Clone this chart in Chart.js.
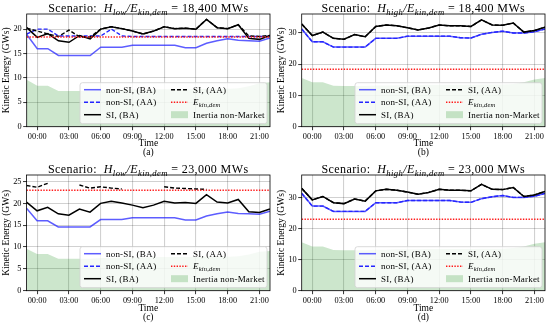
<!DOCTYPE html>
<html><head><meta charset="utf-8">
<script src="https://cdn.jsdelivr.net/npm/chart.js@4.4.1/dist/chart.umd.min.js"></script>
<style>
html,body{margin:0;padding:0;background:#fff;width:550px;height:325px;overflow:hidden}
.p{position:absolute}
canvas{display:block}
</style></head><body>
<div class="p" style="left:0;top:0"><canvas id="ca" width="275" height="160"></canvas></div>
<div class="p" style="left:275px;top:0"><canvas id="cb" width="275" height="160"></canvas></div>
<div class="p" style="left:0;top:160px"><canvas id="cc" width="275" height="165"></canvas></div>
<div class="p" style="left:275px;top:160px"><canvas id="cd" width="275" height="165"></canvas></div>
<script>
// ---------------- data ----------------
const hours = [-1,0,1,2,3,4,5,6,7,8,9,10,11,12,13,14,15,16,17,18,19,20,21,22];
const timeTicks = [0,3,6,9,12,15,18,21];

// low-inertia scenario (panels a, c)
const nonSiBA_low = [18.9,16.0,16.0,14.6,14.6,14.6,14.6,16.3,16.3,16.3,16.7,16.7,16.7,16.7,16.7,16.2,16.2,17.1,17.6,18.0,17.7,17.6,17.5,18.2];
const siBA_low    = [20.3,18.3,19.1,17.6,17.3,18.7,18.0,20.0,20.5,20.1,19.6,19.0,19.6,20.5,20.1,20.2,20.0,22.0,20.3,20.1,20.9,18.1,17.9,18.7];
const nonSiAA_a   = [19.0,20.0,20.0,18.6,18.6,18.6,18.6,18.6,20.0,18.6,18.5,18.5,18.5,18.5,18.5,18.5,18.5,18.5,18.5,18.5,18.5,18.5,18.5,18.5];
const siAA_a      = [20.2,19.6,19.0,18.5,19.8,18.4,18.4,20.0,20.5,20.1,19.6,19.0,19.6,20.5,20.1,20.2,20.0,22.0,20.3,20.1,20.9,18.6,18.5,18.7];
const siAA_c      = [24.1,23.7,24.6,null,null,24.2,23.5,23.8,23.5,23.3,null,null,null,23.8,23.5,23.4,23.3,23.2,null,null,null,null,null,null];
const inertiaNonMarket_low = [9.6,8.4,8.4,7.3,7.3,7.3,7.3,7.5,7.5,7.6,7.6,7.6,7.7,7.7,7.7,7.7,7.7,7.8,7.8,7.8,7.9,8.3,8.9,9.1];

// high-inertia scenario (panels b, d) -- AA curves coincide with BA curves
const nonSiBA_high = [31.3,27.2,27.2,25.5,25.5,25.5,25.5,28.3,28.3,28.3,29.0,29.0,29.0,29.0,29.0,28.5,28.4,29.6,30.2,30.6,30.0,30.0,30.4,31.3];
const siBA_high    = [32.9,29.2,30.3,28.3,28.0,29.5,28.8,32.1,32.6,32.3,31.7,31.0,31.6,32.6,32.3,32.3,32.1,34.2,32.6,32.5,33.2,30.3,30.8,31.9];
const inertiaNonMarket_high = [15.6,14.2,14.2,13.1,13.0,13.0,13.0,13.2,13.2,13.3,13.3,13.3,13.4,13.4,13.4,13.4,13.4,13.5,13.5,13.5,13.7,14.2,15.1,15.6];

const demand18 = 18.4;
const demand23 = 23.0;
const yTicks_a = [0,5,10,15,20];
const yTicks_c = [0,5,10,15,20,25];
const yTicks_hi = [0,10,20,30];

// ---------------- styling ----------------
const FONT = '"Liberation Serif", "DejaVu Serif", serif';
Chart.defaults.font.family = FONT;
Chart.defaults.color = '#000';
const C_BLUE_S = 'rgba(30,30,255,0.72)';
const C_BLUE_D = '#2525ff';
const C_RED = '#ff1a1a';
const C_FILL = 'rgba(0,128,0,0.2)';
const GRID = 'rgba(0,0,0,0.18)';

function pts(arr){ return hours.map((h,i)=>({x:h, y:arr[i]})); }
function lineDS(label, arr, color, width, dash){
  return {label, data: pts(arr), borderColor: color, borderWidth: width, borderDash: dash||[],
          pointRadius: 0, fill: false, tension: 0, spanGaps: false};
}

function sub(t){ return {t, it:true, sub:true}; }
function it(t){ return {t, it:true}; }
function rm(t){ return {t}; }

function drawRich(ctx, parts, x, y, size, align, spacing){
  const ss = size*0.72;
  ctx.letterSpacing = (spacing||0)+'px';
  const ws = parts.map(p=>{ ctx.font=(p.it?'italic ':'')+(p.sub?ss:size)+'px '+FONT; return ctx.measureText(p.t).width; });
  const total = ws.reduce((a,b)=>a+b,0);
  let cx = align==='center' ? x-total/2 : x;
  parts.forEach((p,i)=>{
    ctx.font=(p.it?'italic ':'')+(p.sub?ss:size)+'px '+FONT;
    ctx.fillText(p.t, cx, y + (p.sub ? size*0.25 : 0));
    cx += ws[i];
  });
  ctx.letterSpacing = '0px';
}

const richTitle = {
  id:'richTitle',
  afterDraw(chart, args, o){
    const ctx=chart.ctx, a=chart.chartArea;
    ctx.save(); ctx.fillStyle='#000'; ctx.textBaseline='alphabetic'; ctx.textAlign='left';
    drawRich(ctx, o.parts, (a.left+a.right)/2, a.top - o.gap, o.size, 'center', 0.4);
    ctx.restore();
  }
};

const frameAndLegend = {
  id:'frameAndLegend',
  afterDatasetsDraw(chart, args, o){
    const ctx=chart.ctx, a=chart.chartArea;
    ctx.save();
    ctx.strokeStyle='#000'; ctx.lineWidth=0.8;
    ctx.strokeRect(a.left, a.top, a.right-a.left, a.bottom-a.top);
    // legend
    const w=187, h=41, x0=a.right-3-w, y0=a.bottom-3-h, r=2.5;
    ctx.beginPath();
    ctx.moveTo(x0+r,y0); ctx.lineTo(x0+w-r,y0); ctx.quadraticCurveTo(x0+w,y0,x0+w,y0+r);
    ctx.lineTo(x0+w,y0+h-r); ctx.quadraticCurveTo(x0+w,y0+h,x0+w-r,y0+h);
    ctx.lineTo(x0+r,y0+h); ctx.quadraticCurveTo(x0,y0+h,x0,y0+h-r);
    ctx.lineTo(x0,y0+r); ctx.quadraticCurveTo(x0,y0,x0+r,y0); ctx.closePath();
    ctx.fillStyle='rgba(255,255,255,0.8)'; ctx.fill();
    ctx.strokeStyle='#d0d0d0'; ctx.lineWidth=0.8; ctx.stroke();
    const rows=[7,19.5,32], cols=[{s:3,t:26},{s:90,t:113}];
    o.items.forEach(item=>{
      const cy=y0+rows[item.row], c=cols[item.col];
      if(item.kind==='patch'){
        ctx.fillStyle=item.color; ctx.fillRect(x0+c.s+1, cy-3.5, 17, 7);
      } else {
        ctx.strokeStyle=item.color; ctx.lineWidth=item.width; ctx.setLineDash(item.dash||[]);
        ctx.beginPath(); ctx.moveTo(x0+c.s+1, cy); ctx.lineTo(x0+c.s+18, cy); ctx.stroke();
        ctx.setLineDash([]);
      }
      ctx.fillStyle='#000'; ctx.textBaseline='middle'; ctx.textAlign='left';
      drawRich(ctx, item.label, x0+c.t, cy+0.5, 9, 'left', 0.2);
    });
    ctx.restore();
  }
};

const legendItems = [
  {col:0,row:0,kind:'line',color:C_BLUE_S,width:1.5,label:[rm('non-SI, (BA)')]},
  {col:0,row:1,kind:'line',color:C_BLUE_D,width:1.5,dash:[4,2],label:[rm('non-SI, (AA)')]},
  {col:0,row:2,kind:'line',color:'#000',width:1.5,label:[rm('SI, (BA)')]},
  {col:1,row:0,kind:'line',color:'#000',width:1.5,dash:[4,2],label:[rm('SI, (AA)')]},
  {col:1,row:1,kind:'line',color:C_RED,width:1.5,dash:[1.4,1.4],label:[it('E'),sub('kin,dem')]},
  {col:1,row:2,kind:'patch',color:C_FILL,label:[rm('Inertia non-Market')]}
];

function makePanel(id, p){
  const W=275, H=p.H;
  const datasets = [
    {label:'E_kin,dem', data:[{x:-1,y:p.demand},{x:22,y:p.demand}], borderColor:C_RED, borderWidth:1.5, borderDash:[1.4,1.4], pointRadius:0, fill:false},
    lineDS('SI, (AA)', p.siAA, '#000', 1.4, [4,2]),
    lineDS('SI, (BA)', p.siBA, '#000', 1.5),
    lineDS('non-SI, (AA)', p.nonSiAA, C_BLUE_D, 1.4, [4,2]),
    lineDS('non-SI, (BA)', p.nonSiBA, C_BLUE_S, 1.5),
    {label:'Inertia non-Market', data:pts(p.inertia), borderWidth:0, borderColor:'rgba(0,0,0,0)', backgroundColor:C_FILL, pointRadius:0, fill:'origin', tension:0}
  ];
  return new Chart(document.getElementById(id), {
    type:'line',
    data:{datasets},
    plugins:[richTitle, frameAndLegend],
    options:{
      responsive:false, animation:false, events:[], devicePixelRatio:1,
      layout:{padding:{left:0, top:p.T, right:W-p.R, bottom:0}},
      plugins:{legend:{display:false}, tooltip:{enabled:false},
        richTitle:{parts:p.title, size:12, gap:2.5},
        frameAndLegend:{items:legendItems}},
      scales:{
        x:{type:'linear', min:-1, max:22,
          afterBuildTicks:s=>{ s.ticks = timeTicks.map(v=>({value:v})); },
          ticks:{callback:v=>String(v).padStart(2,'0')+':00', font:{size:8.3}, padding:1.5, maxRotation:0, autoSkip:false},
          grid:{color:GRID, lineWidth:1.1, tickColor:'#000', tickLength:3.5, tickWidth:0.8},
          border:{display:false},
          title:{display:true, text:['Time', p.caption], font:{size:9.5, lineHeight:0.95}, padding:{top:0,bottom:2.5}},
          afterFit:s=>{ s.height = H - p.B; }
        },
        y:{min:0, max:p.yMax,
          afterBuildTicks:s=>{ s.ticks = p.yTicks.map(v=>({value:v})); },
          ticks:{font:{size:8.3}, padding:1.5},
          grid:{color:GRID, lineWidth:1.1, tickColor:'#000', tickLength:3.5, tickWidth:0.8},
          border:{display:false},
          title:{display:true, text:'Kinetic Energy (GWs)', font:{size:9.5, lineHeight:1.0}, padding:{top:2,bottom:0}},
          afterFit:s=>{ s.width = p.L; }
        }
      }
    }
  });
}

const tLow = v=>[rm('Scenario:  '), it('H'), sub('low'), it('/E'), sub('kin,dem'), rm(' = '+v+' MWs')];
const tHigh = v=>[rm('Scenario:  '), it('H'), sub('high'), it('/E'), sub('kin,dem'), rm(' = '+v+' MWs')];

makePanel('ca', {H:160, L:26.7, R:270, T:14, B:126.7, yMax:23.1, yTicks:yTicks_a, demand:demand18,
  nonSiBA:nonSiBA_low, nonSiAA:nonSiAA_a, siBA:siBA_low, siAA:siAA_a, inertia:inertiaNonMarket_low,
  title:tLow('18,400'), caption:'(a)'});
makePanel('cb', {H:160, L:26.7, R:270, T:14, B:126.7, yMax:36.1, yTicks:yTicks_hi, demand:demand18,
  nonSiBA:nonSiBA_high, nonSiAA:nonSiBA_high, siBA:siBA_high, siAA:siBA_high, inertia:inertiaNonMarket_high,
  title:tHigh('18,400'), caption:'(b)'});
makePanel('cc', {H:165, L:26.5, R:270, T:15, B:130.7, yMax:26.5, yTicks:yTicks_c, demand:demand23,
  nonSiBA:nonSiBA_low, nonSiAA:hours.map(()=>null), siBA:siBA_low, siAA:siAA_c, inertia:inertiaNonMarket_low,
  title:tLow('23,000'), caption:'(c)'});
makePanel('cd', {H:165, L:26.7, R:270, T:15, B:130.7, yMax:37.2, yTicks:yTicks_hi, demand:demand23,
  nonSiBA:nonSiBA_high, nonSiAA:nonSiBA_high, siBA:siBA_high, siAA:siBA_high, inertia:inertiaNonMarket_high,
  title:tHigh('23,000'), caption:'(d)'});
</script>
</body></html>
